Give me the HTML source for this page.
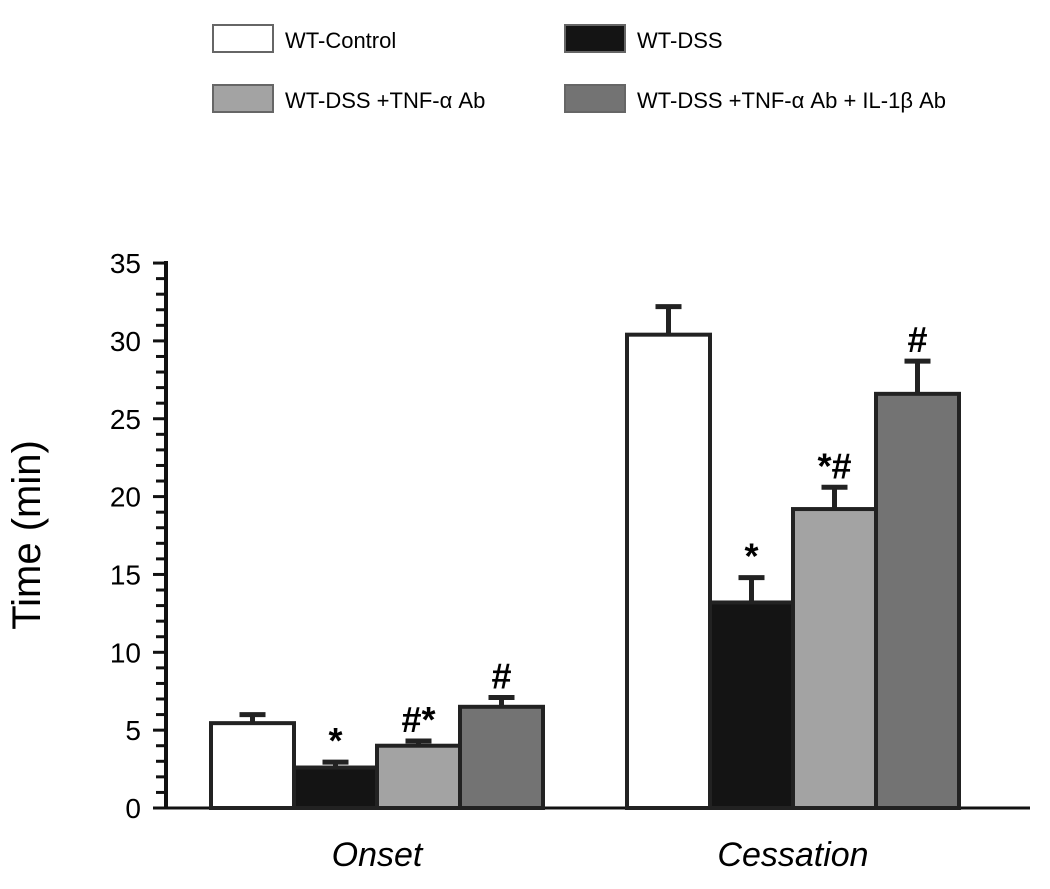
<!DOCTYPE html>
<html><head><meta charset="utf-8"><style>
body{margin:0;background:#fff}
svg text{font-family:"Liberation Sans",sans-serif;fill:#000}
</style></head><body>
<svg id="c" width="1050" height="884" viewBox="0 0 1050 884">
<g id="legend"></g>
<g id="axes"></g><g id="bars"></g>
<text x="40" y="535" font-size="40" text-anchor="middle" transform="rotate(-90 40 535)">Time (min)</text>
</svg>
<script>
const categories=["Onset","Cessation"];
const seriesNames=["WT-Control","WT-DSS","WT-DSS +TNF-α Ab","WT-DSS +TNF-α Ab + IL-1β Ab"];
const seriesFills=["#ffffff","#141414","#a3a3a3","#737373"];
const means=[[5.45,2.6,4.0,6.5],[30.4,13.2,19.2,26.6]];
const errs=[[0.55,0.35,0.3,0.6],[1.8,1.6,1.4,2.1]];
const marks=[["","*","#*","#"],["","*","*#","#"]];
const yTicks=[0,5,10,15,20,25,30,35];
const NS="http://www.w3.org/2000/svg";
const y0=808,pxu=15.57,axisX=166;
const Y=v=>y0-v*pxu;
const groupStart=[211,627],bw=83;
function el(p,t,a){const e=document.createElementNS(NS,t);for(const k in a)e.setAttribute(k,a[k]);p.appendChild(e);return e;}
const ax=document.getElementById('axes'),bars=document.getElementById('bars'),lg=document.getElementById('legend');
const yl=el(ax,'line',{x1:axisX,y1:Y(35)-2,x2:axisX,y2:y0,stroke:'#111','stroke-width':4});


const xl=el(ax,'line',{x1:axisX,y1:y0,x2:1030,y2:y0,stroke:'#111','stroke-width':3});


for(let v=0;v<=35;v++){
  const major=v%5===0;
  const t=el(ax,'line',{x1:major?axisX-13:axisX-10,y1:Y(v),x2:axisX,y2:Y(v),stroke:'#111','stroke-width':3});
  
  
}
yTicks.forEach(v=>{
  const t=el(ax,'text',{x:141,y:Y(v)+10,'font-size':28,'text-anchor':'end'});t.textContent=v;
  
  
});
categories.forEach((c,i)=>{
  const t=el(ax,'text',{x:groupStart[i]+2*bw,y:866,'font-size':34,'font-style':'italic','text-anchor':'middle'});t.textContent=c;
  
  
  means[i].forEach((m,j)=>{
    const x=groupStart[i]+j*bw,top=Y(m),cap=Y(m+errs[i][j]),cx=x+bw/2;
    const s=el(bars,'line',{x1:cx,y1:top,x2:cx,y2:cap,stroke:'#222','stroke-width':5});
    
    
    const cp=el(bars,'line',{x1:cx-13,y1:cap,x2:cx+13,y2:cap,stroke:'#222','stroke-width':5});
    
    
    const r=el(bars,'rect',{x:x,y:top,width:bw,height:y0-top,fill:seriesFills[j],stroke:'#222','stroke-width':4});
    
    
    if(marks[i][j]){
      const a=el(bars,'text',{x:cx,y:cap-9,'font-size':36,'font-weight':'bold','text-anchor':'middle'});a.textContent=marks[i][j];
      
      
    }
  });
});
const lx=[213,565],ly=[25,85];
seriesNames.forEach((n,j)=>{
  const x=lx[j%2],y=ly[Math.floor(j/2)];
  const r=el(lg,'rect',{x:x,y:y,width:60,height:27,fill:seriesFills[j],stroke:'#666','stroke-width':2});
  
  
  const t=el(lg,'text',{x:x+72,y:y+23,'font-size':22});t.textContent=n;
  
  
});
</script>
</body></html>
